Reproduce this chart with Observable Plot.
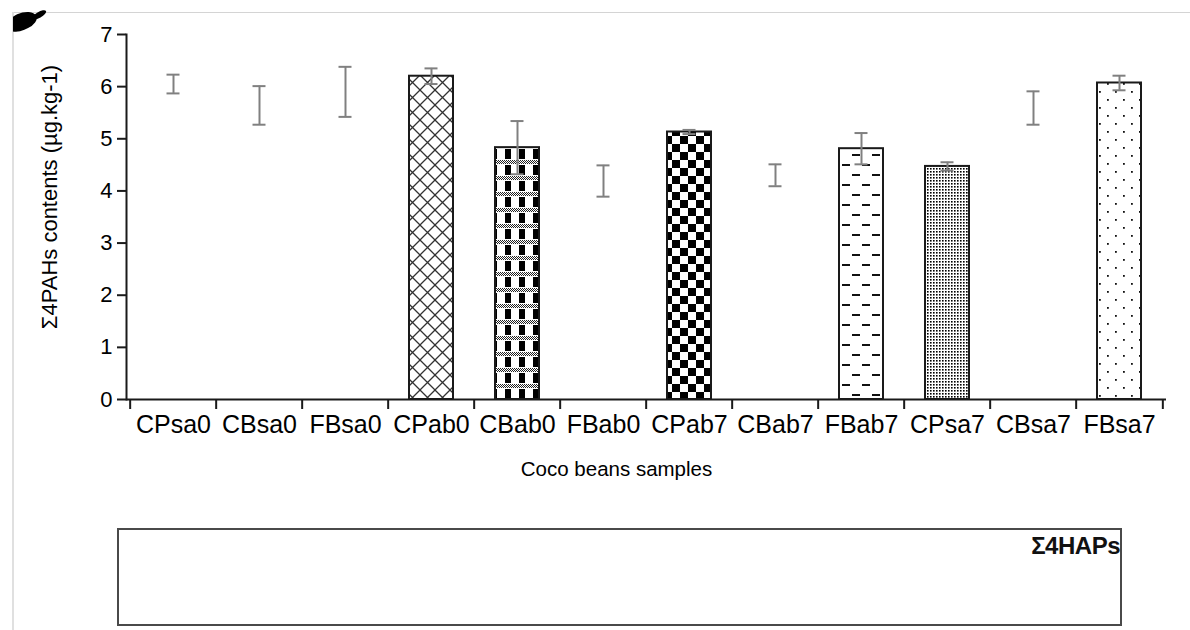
<!DOCTYPE html>
<html>
<head>
<meta charset="utf-8">
<script src="https://cdn.jsdelivr.net/npm/d3@7"></script>
<script src="https://cdn.jsdelivr.net/npm/@observablehq/plot@0.6"></script>
<style>
html, body { margin: 0; padding: 0; background: #fff; }
#page { position: relative; width: 1190px; height: 630px; overflow: hidden; background: #fff; font-family: 'Liberation Sans', Arial, sans-serif; }
#topline { position: absolute; left: 13px; top: 12px; right: 0; height: 1px; background: #d4d4d4; }
#leftline { position: absolute; left: 12px; top: 12px; bottom: 0; width: 2px; background: #e0e0e0; }
#blobwrap { position: absolute; left: 13px; top: 10px; width: 36px; height: 22px; overflow: hidden; }
#blob { position: absolute; left: -6px; top: 3px; width: 30px; height: 17px; background: #000; border-radius: 50% 60% 45% 50%; transform: rotate(-25deg); }
#blob2 { position: absolute; left: 18px; top: 2px; width: 16px; height: 6px; background: #000; border-radius: 50%; transform: rotate(-30deg); }
#chart { position: absolute; left: 0; top: 0; }
#legend { position: absolute; left: 117px; top: 528px; width: 1001px; height: 94px; border: 2px solid #4a4a4a; background: #fff; }
#legend span { position: absolute; right: 0; top: 2px; font-weight: bold; font-size: 24px; color: #111; letter-spacing: -0.5px; }
</style>
</head>
<body>
<div id="page">
  <div id="topline"></div>
  <div id="leftline"></div>
  <div id="blobwrap"><div id="blob"></div><div id="blob2"></div></div>
  <div id="chart"></div>
  <div id="legend"><span id="legendText"></span></div>
</div>
<script>
// ---- data ----
const categories = ["CPsa0", "CBsa0", "FBsa0", "CPab0", "CBab0", "FBab0", "CPab7", "CBab7", "FBab7", "CPsa7", "CBsa7", "FBsa7"];
const means      = [6.05, 5.64, 5.90, 6.20, 4.83, 4.19, 5.13, 4.30, 4.81, 4.47, 5.59, 6.07];
const sds        = [0.18, 0.37, 0.48, 0.15, 0.51, 0.30, 0.04, 0.21, 0.30, 0.08, 0.32, 0.14];
const patterns   = ["none", "none", "none", "xhatch", "cbab", "none", "checker", "none", "dash", "fine", "none", "sparse"];
const yTicks = [0, 1, 2, 3, 4, 5, 6, 7];
const yLabel = "Σ4PAHs contents (µg.kg-1)";
const xLabel = "Coco beans samples";
const legendLabel = "Σ4HAPs";

const data = categories.map((c, i) => ({cat: c, mean: means[i], sd: sds[i], pattern: patterns[i]}));
const bars = data.filter(d => d.pattern !== "none");

const W = 1190, H = 490, mL = 126, mR = 24, mT = 34, mB = 91;
const step = (W - mL - mR) / categories.length;
const axisColor = "#1a1a1a";
const errColor = "#808080";

const chart = Plot.plot({
  width: W, height: H,
  marginLeft: mL, marginRight: mR, marginTop: mT, marginBottom: mB,
  style: {fontFamily: "'Liberation Sans', Arial, sans-serif", fontSize: "21px", color: "#000", background: "transparent", overflow: "visible"},
  x: {domain: categories, paddingInner: 0.49, paddingOuter: 0.245, align: 0.5},
  y: {domain: [0, 7]},
  marks: [
    Plot.barY(bars, {x: "cat", y: "mean", fill: d => `url(#pat-${d.pattern})`, stroke: axisColor, strokeWidth: 2}),
    Plot.ruleX(data, {x: "cat", y1: d => d.mean - d.sd, y2: d => d.mean + d.sd, stroke: errColor, strokeWidth: 2}),
    Plot.tickY(data, {x: "cat", y: d => d.mean + d.sd, stroke: errColor, strokeWidth: 2, insetLeft: 15.5, insetRight: 15.5}),
    Plot.tickY(data, {x: "cat", y: d => d.mean - d.sd, stroke: errColor, strokeWidth: 2, insetLeft: 15.5, insetRight: 15.5}),
    Plot.frame({anchor: "left", stroke: axisColor, strokeWidth: 2}),
    Plot.ruleY([0], {stroke: axisColor, strokeWidth: 2}),
    Plot.axisY(yTicks, {tickSize: 9, tickPadding: 5, strokeWidth: 2, stroke: axisColor, fontSize: 22, tickFormat: "d", label: null}),
    Plot.axisX({tickSize: 0, tickPadding: 16, fontSize: 25, label: null}),
    Plot.axisX({tickSize: 10, text: null, label: null, dx: -step / 2, strokeWidth: 2, stroke: axisColor}),
    Plot.axisX([categories[categories.length - 1]], {tickSize: 10, text: null, label: null, dx: step / 2, strokeWidth: 2, stroke: axisColor}),
    Plot.text([yLabel], {text: d => d, frameAnchor: "left", textAnchor: "middle", rotate: -90, dx: -77, dy: -20, fontSize: 22}),
    Plot.text([xLabel], {text: d => d, frameAnchor: "bottom", textAnchor: "middle", dx: -30, dy: 76, fontSize: 20.5})
  ]
});

// fill patterns
const defs = d3.select(chart).insert("defs", ":first-child");
function pat(id, w, h) {
  return defs.append("pattern").attr("id", "pat-" + id).attr("patternUnits", "userSpaceOnUse")
    .attr("width", w).attr("height", h);
}
let p;
p = pat("xhatch", 15, 15);
p.append("rect").attr("width", 15).attr("height", 15).attr("fill", "#fff");
p.append("path").attr("d", "M0,0L15,15M15,0L0,15").attr("stroke", "#333").attr("stroke-width", 1.3);

p = pat("checker", 16, 16);
p.append("rect").attr("width", 16).attr("height", 16).attr("fill", "#fff");
p.append("rect").attr("width", 8).attr("height", 8).attr("fill", "#000");
p.append("rect").attr("x", 8).attr("y", 8).attr("width", 8).attr("height", 8).attr("fill", "#000");

p = pat("cbab", 14, 16);
p.append("rect").attr("width", 14).attr("height", 16).attr("fill", "#fff");
for (let yy = 0; yy < 4; yy++) for (let xx = (yy % 2); xx < 14; xx += 2)
  p.append("rect").attr("x", xx).attr("y", yy).attr("width", 1).attr("height", 1).attr("fill", "#222");
p.append("rect").attr("x", 1).attr("y", 5).attr("width", 6).attr("height", 10).attr("fill", "#000");

p = pat("dash", 20, 20);
p.append("rect").attr("width", 20).attr("height", 20).attr("fill", "#fff");
p.append("rect").attr("x", 2).attr("y", 4).attr("width", 8).attr("height", 2).attr("fill", "#111");
p.append("rect").attr("x", 12).attr("y", 14).attr("width", 8).attr("height", 2).attr("fill", "#111");

p = pat("fine", 3, 3);
p.append("rect").attr("width", 3).attr("height", 3).attr("fill", "#fff");
p.append("rect").attr("width", 1.6).attr("height", 1.6).attr("fill", "#000");

p = pat("sparse", 16, 16);
p.append("rect").attr("width", 16).attr("height", 16).attr("fill", "#fff");
p.append("rect").attr("x", 3).attr("y", 3).attr("width", 1.8).attr("height", 1.8).attr("fill", "#111");
p.append("rect").attr("x", 11).attr("y", 11).attr("width", 1.8).attr("height", 1.8).attr("fill", "#111");

document.getElementById("chart").appendChild(chart);
document.getElementById("legendText").textContent = legendLabel;
</script>
</body>
</html>
